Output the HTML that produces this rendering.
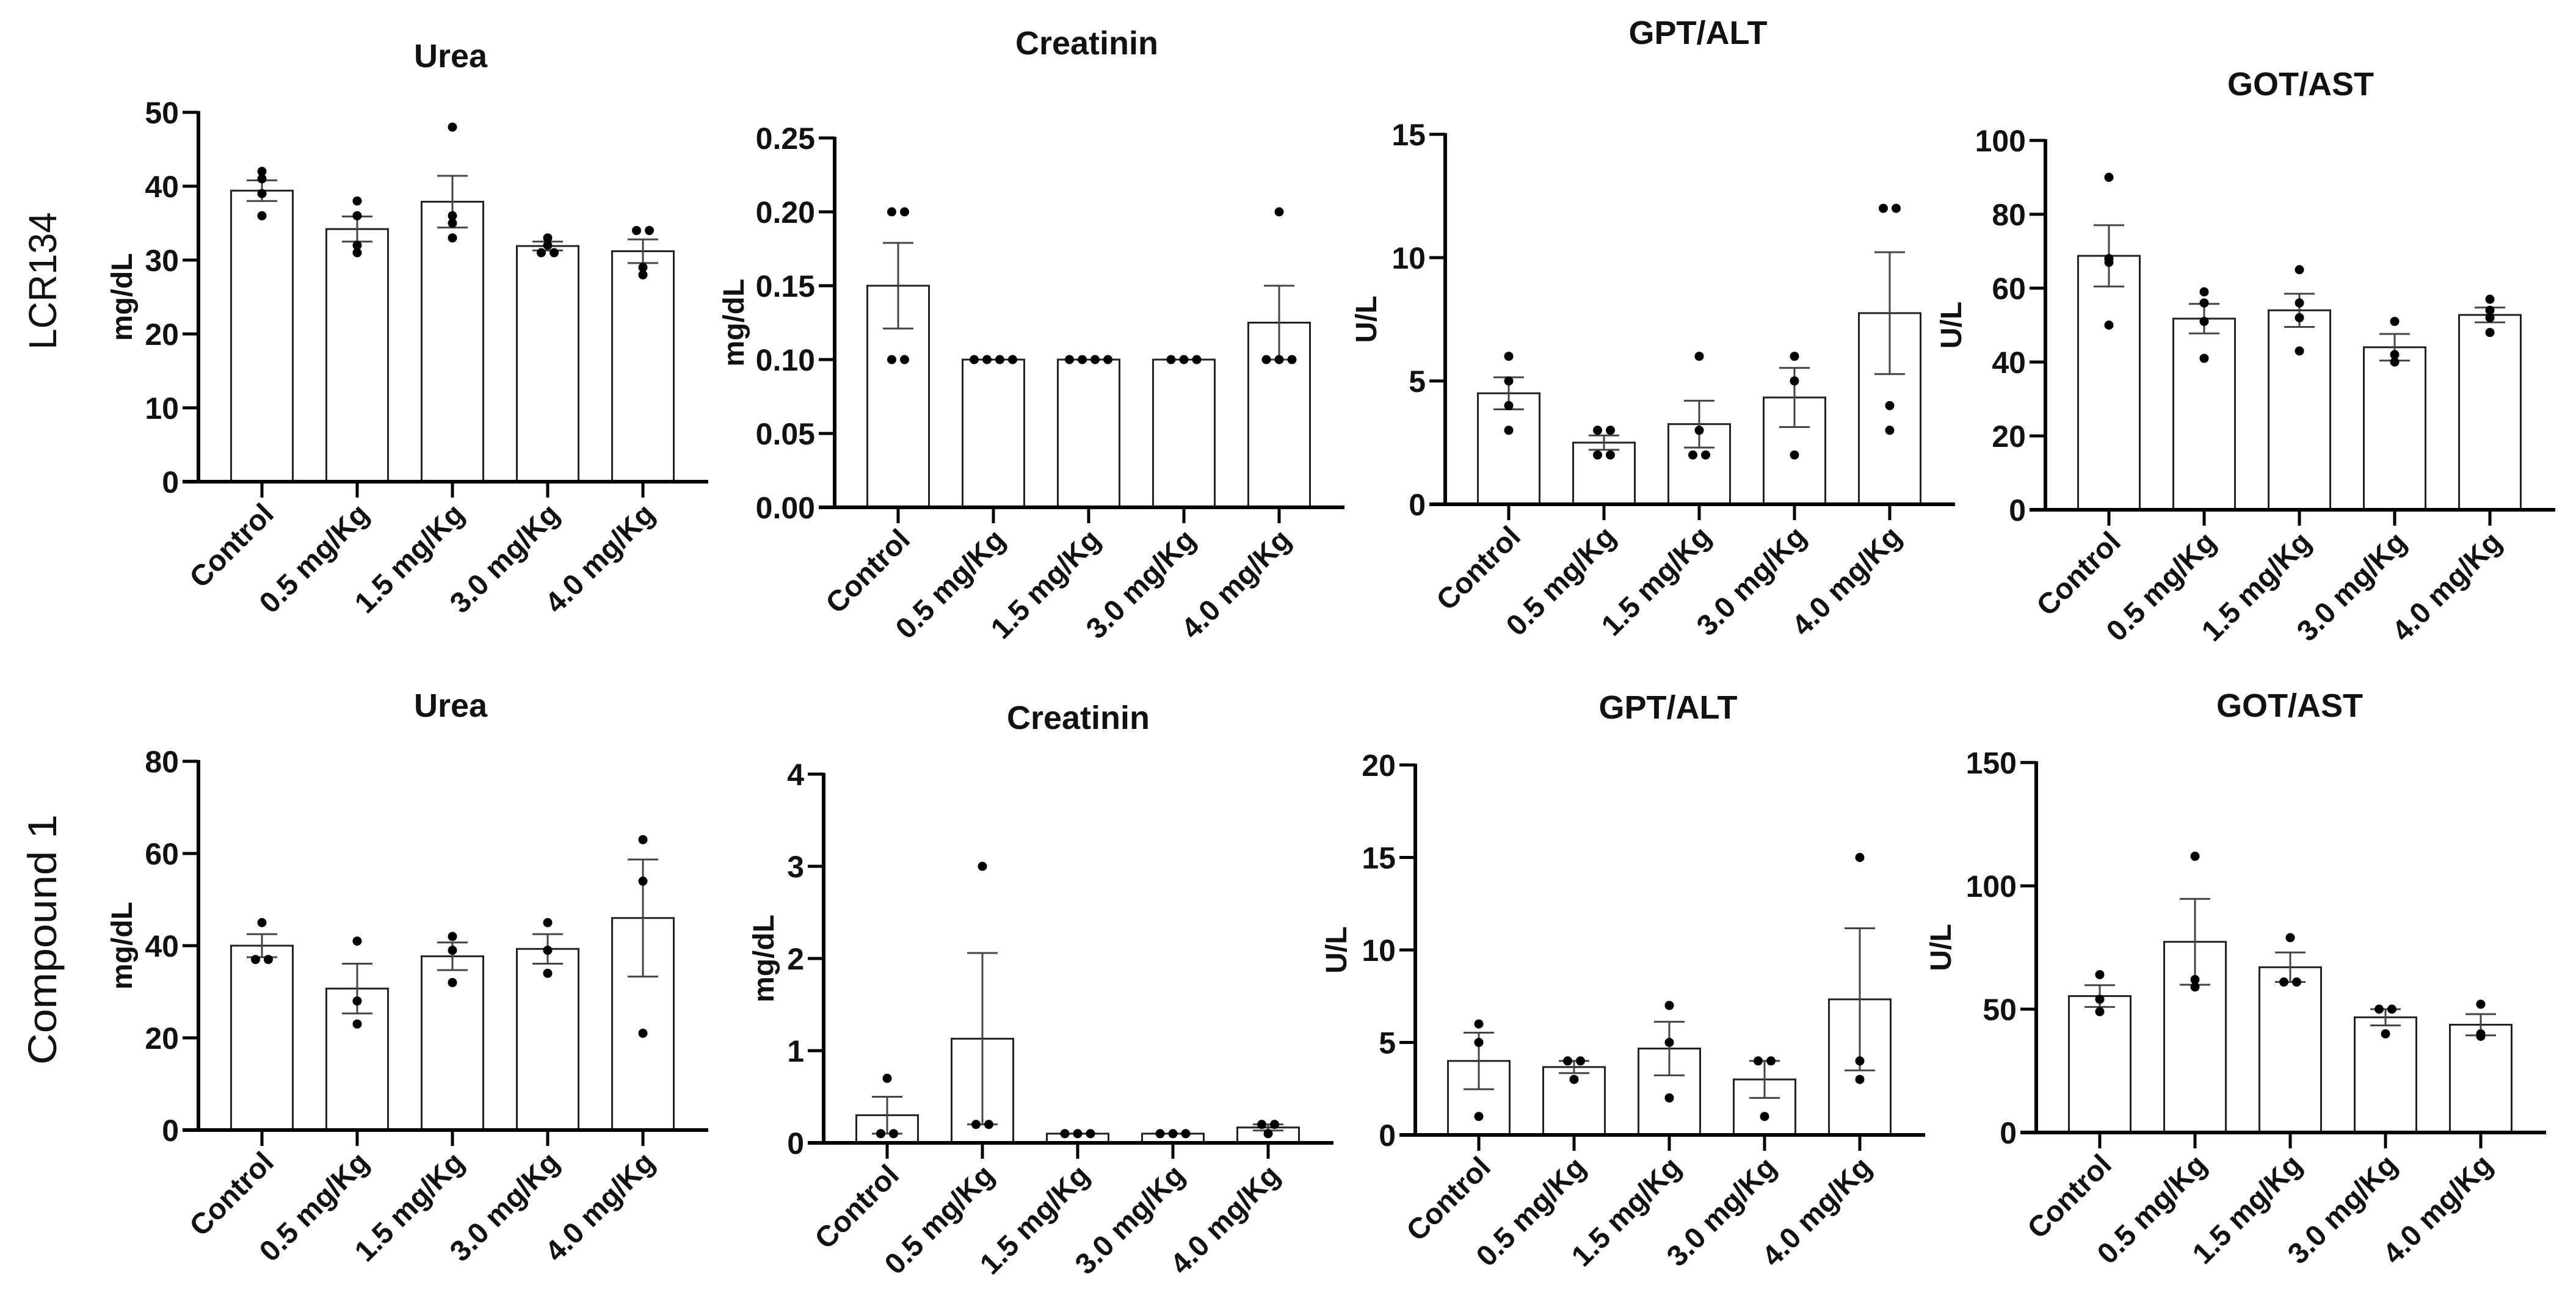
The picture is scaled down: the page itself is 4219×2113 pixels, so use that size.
<!DOCTYPE html>
<html><head><meta charset="utf-8"><style>
html,body{margin:0;padding:0;background:#fff;}
svg{display:block;font-family:"Liberation Sans",Arial,sans-serif;}
</style></head><body>
<svg id="fig" width="4219" height="2113" viewBox="0 0 4219 2113" xmlns="http://www.w3.org/2000/svg">
<rect width="4219" height="2113" fill="#fff"/>
<text transform="translate(92,460) rotate(-90)" text-anchor="middle" font-size="64" textLength="225" lengthAdjust="spacingAndGlyphs" fill="#111">LCR134</text>
<text transform="translate(92,1539) rotate(-90)" text-anchor="middle" font-size="66" textLength="410" lengthAdjust="spacingAndGlyphs" fill="#111">Compound 1</text>
</svg>
<script>
const categories = ["Control","0.5 mg/Kg","1.5 mg/Kg","3.0 mg/Kg","4.0 mg/Kg"];

const ureaTopMeans = [39.4,34.2,37.9,31.9,31.2];
const ureaTopSem = [1.4,1.7,3.5,0.6,1.6];
const ureaTopPoints = [[42,41,39,36],[38,36,32,31],[48,36,35,33],[33,32,31,31],[34,34,29,28]];
const ureaTopTicks = [0,10,20,30,40,50];

const creatTopMeans = [0.15,0.1,0.1,0.1,0.125];
const creatTopSem = [0.029,0,0,0,0.025];
const creatTopPoints = [[0.2,0.2,0.1,0.1],[0.1,0.1,0.1,0.1],[0.1,0.1,0.1,0.1],[0.1,0.1,0.1],[0.2,0.1,0.1,0.1]];
const creatTopTicks = [0,0.05,0.10,0.15,0.20,0.25];
const creatTopTickLabels = ["0.00","0.05","0.10","0.15","0.20","0.25"];

const gptTopMeans = [4.5,2.5,3.25,4.33,7.75];
const gptTopSem = [0.65,0.29,0.95,1.2,2.47];
const gptTopPoints = [[6,5,4,3],[3,3,2,2],[6,3,2,2],[6,5,2],[12,12,4,3]];
const gptTopTicks = [0,5,10,15];

const gotTopMeans = [68.75,51.75,54,44,52.75];
const gotTopSem = [8.3,4.0,4.5,3.6,2.0];
const gotTopPoints = [[90,68,67,50],[59,56,51,41],[65,56,52,43],[51,42,40],[57,54,52,48]];
const gotTopTicks = [0,20,40,60,80,100];

const ureaBotMeans = [40,30.7,37.7,39.3,46];
const ureaBotSem = [2.5,5.4,3.0,3.2,12.7];
const ureaBotPoints = [[45,37,37],[41,28,23],[42,39,32],[45,39,34],[63,54,21]];
const ureaBotTicks = [0,20,40,60,80];

const creatBotMeans = [0.3,1.13,0.1,0.1,0.167];
const creatBotSem = [0.2,0.93,0,0,0.033];
const creatBotPoints = [[0.7,0.1,0.1],[3,0.2,0.2],[0.1,0.1,0.1],[0.1,0.1,0.1],[0.2,0.2,0.1]];
const creatBotTicks = [0,1,2,3,4];

const gptBotMeans = [4,3.67,4.67,3,7.33];
const gptBotSem = [1.53,0.33,1.45,1.0,3.84];
const gptBotPoints = [[6,5,1],[4,4,3],[7,5,2],[4,4,1],[15,4,3]];
const gptBotTicks = [0,5,10,15,20];

const gotBotMeans = [55.3,77.3,67,46.7,43.7];
const gotBotSem = [4.4,17.4,6.0,3.3,4.3];
const gotBotPoints = [[64,54,49],[112,62,59],[79,61,61],[50,50,40],[52,40,39]];
const gotBotTicks = [0,50,100,150];

const NS = "http://www.w3.org/2000/svg";
const svg = document.getElementById("fig");
function mk(tag, attrs, parent){
  const e = document.createElementNS(NS, tag);
  for (const k in attrs) e.setAttribute(k, attrs[k]);
  (parent||svg).appendChild(e);
  return e;
}

function panel(p){
  const g = mk("g", {});
  
  
  const H = p.zero - p.top;
  const maxV = p.ticks[p.ticks.length-1];
  const y = v => p.zero - v / maxV * H;
  const spacing = 156, bw = 101;
  const x = i => p.ax + 104 + i * spacing;
  const axisEnd = x(categories.length-1) + 107;

  const t = mk("text", {x:p.tx, y:p.ty, "text-anchor":"middle", "font-size":54, "font-weight":"bold", fill:"#111"}, g);
  t.textContent = p.title;
  
  

  const yl = mk("text", {transform:`translate(${p.ylx},${(p.top+p.zero)/2}) rotate(-90)`, "text-anchor":"middle", "font-size":48, "font-weight":"bold", fill:"#111"}, g);
  yl.textContent = p.ylabel;
  
  

  p.means.forEach((m,i)=>{
    const r = mk("rect", {x:x(i)-bw/2, y:y(m), width:bw, height:p.zero-y(m), fill:"#fff", stroke:"#222", "stroke-width":3}, g);
    
    
  });
  p.means.forEach((m,i)=>{
    const s = p.sem[i];
    if (s <= 0) return;
    const eg = mk("g", {stroke:"#444", "stroke-width":3}, g);
    
    
    mk("line", {x1:x(i), x2:x(i), y1:y(m+s), y2:y(Math.max(0,m-s))}, eg);
    mk("line", {x1:x(i)-25, x2:x(i)+25, y1:y(m+s), y2:y(m+s)}, eg);
    mk("line", {x1:x(i)-25, x2:x(i)+25, y1:y(Math.max(0,m-s)), y2:y(Math.max(0,m-s))}, eg);
  });
  p.points.forEach((arr,i)=>{
    const counts = {};
    arr.forEach(v=>{counts[v]=(counts[v]||0)+1;});
    const seen = {};
    arr.forEach(v=>{
      const n = counts[v]; const k = seen[v]||0; seen[v]=k+1;
      const off = (k - (n-1)/2) * 21;
      const c = mk("circle", {cx:x(i)+off, cy:y(v), r:7.5, fill:"#000"}, g);
      
      
    });
  });
  const ya = mk("line", {x1:p.ax, x2:p.ax, y1:p.top-2, y2:p.zero+2, stroke:"#000", "stroke-width":6}, g);
  
  
  const xa = mk("line", {x1:p.ax-26, x2:axisEnd, y1:p.zero, y2:p.zero, stroke:"#000", "stroke-width":6}, g);
  
  
  p.ticks.forEach((v,j)=>{
    mk("line", {x1:p.ax-26, x2:p.ax, y1:y(v), y2:y(v), stroke:"#000", "stroke-width":5}, g);
    const tl = mk("text", {x:p.ax-32, y:y(v)+18, "text-anchor":"end", "font-size":50, "font-weight":"bold", fill:"#111"}, g);
    tl.textContent = p.tickLabels ? p.tickLabels[j] : String(v);
    
    
  });
  categories.forEach((c,i)=>{
    mk("line", {x1:x(i), x2:x(i), y1:p.zero, y2:p.zero+26, stroke:"#000", "stroke-width":5}, g);
    const xl = mk("text", {transform:`translate(${x(i)+22},${p.zero+56}) rotate(-45)`, "text-anchor":"end", "font-size":48, "font-weight":"bold", fill:"#111"}, g);
    xl.textContent = c;
    
    
  });
}

panel({name:"urea-lcr134-chart", title:"Urea", tx:738, ty:110, ylabel:"mg/dL", ylx:216, ax:325, top:184, zero:789, ticks:ureaTopTicks, means:ureaTopMeans, sem:ureaTopSem, points:ureaTopPoints});
panel({name:"creatinin-lcr134-chart", title:"Creatinin", tx:1780, ty:89, ylabel:"mg/dL", ylx:1218, ax:1367, top:226, zero:831, ticks:creatTopTicks, tickLabels:creatTopTickLabels, means:creatTopMeans, sem:creatTopSem, points:creatTopPoints});
panel({name:"gpt-alt-lcr134-chart", title:"GPT/ALT", tx:2781, ty:72, ylabel:"U/L", ylx:2254, ax:2367, top:220, zero:826, ticks:gptTopTicks, means:gptTopMeans, sem:gptTopSem, points:gptTopPoints});
panel({name:"got-ast-lcr134-chart", title:"GOT/AST", tx:3768, ty:156, ylabel:"U/L", ylx:3212, ax:3350, top:230, zero:835, ticks:gotTopTicks, means:gotTopMeans, sem:gotTopSem, points:gotTopPoints});

panel({name:"urea-compound1-chart", title:"Urea", tx:738, ty:1174, ylabel:"mg/dL", ylx:216, ax:325, top:1247, zero:1851, ticks:ureaBotTicks, means:ureaBotMeans, sem:ureaBotSem, points:ureaBotPoints});
panel({name:"creatinin-compound1-chart", title:"Creatinin", tx:1766, ty:1194, ylabel:"mg/dL", ylx:1267, ax:1349, top:1268, zero:1872, ticks:creatBotTicks, means:creatBotMeans, sem:creatBotSem, points:creatBotPoints});
panel({name:"gpt-alt-compound1-chart", title:"GPT/ALT", tx:2732, ty:1177, ylabel:"U/L", ylx:2205, ax:2318, top:1253, zero:1859, ticks:gptBotTicks, means:gptBotMeans, sem:gptBotSem, points:gptBotPoints});
panel({name:"got-ast-compound1-chart", title:"GOT/AST", tx:3750, ty:1174, ylabel:"U/L", ylx:3195, ax:3335, top:1249, zero:1855, ticks:gotBotTicks, means:gotBotMeans, sem:gotBotSem, points:gotBotPoints});
</script>
</body></html>
